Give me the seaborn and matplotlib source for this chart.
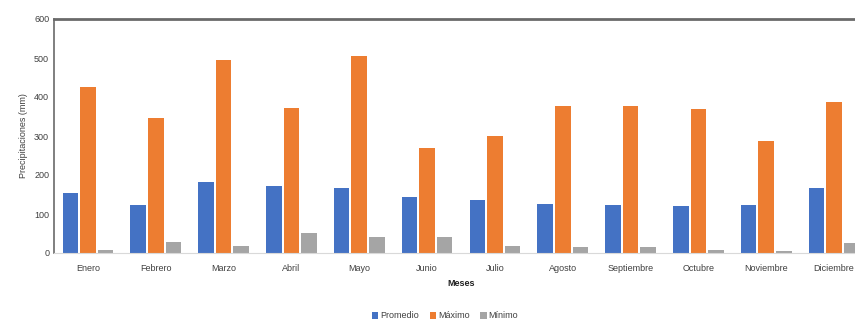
import pandas as pd
import matplotlib.pyplot as plt
import seaborn as sns

meses = ['Enero', 'Febrero', 'Marzo', 'Abril', 'Mayo', 'Junio', 'Julio',
         'Agosto', 'Septiembre', 'Octubre', 'Noviembre', 'Diciembre']
promedio = [154, 123, 182, 172, 167, 144, 136, 126, 123, 121, 123, 167]
maximo = [426, 346, 495, 372, 505, 270, 300, 378, 378, 368, 287, 388]
minimo = [8, 27, 18, 52, 42, 42, 18, 15, 15, 8, 5, 25]
series = ['Promedio', 'Máximo', 'Mínimo']
colores = ['#4472C4', '#ED7D31', '#A5A5A5']

df = pd.DataFrame({'Meses': meses, 'Promedio': promedio, 'Máximo': maximo, 'Mínimo': minimo})
df_long = df.melt(id_vars='Meses', var_name='Serie', value_name='Valor')

sns.set_style('white')
plt.rcParams['font.family'] = ['Liberation Sans', 'DejaVu Sans']

fig = plt.figure(figsize=(8.55, 3.23), dpi=100)
ax = fig.add_axes([54 / 855, 1 - 253 / 323, 814 / 855, 234 / 323])

sns.barplot(data=df_long, x='Meses', y='Valor', hue='Serie', hue_order=series,
            palette=colores, saturation=1, width=0.78, gap=0.12, linewidth=0,
            ax=ax, legend=True)

ax.set_ylim(0, 600)
ax.set_xlim(-0.5, 11.5)
ax.set_yticks(range(0, 601, 100))
ax.tick_params(axis='both', labelsize=6.5, colors='#404040', length=0)
ax.tick_params(axis='x', pad=8)
ax.set_ylabel('Precipitaciones (mm)', fontsize=6.5, color='#404040')
ax.set_xlabel('Meses', fontsize=6.5, fontweight='bold', color='#202020', labelpad=4)

for lado in ['top', 'left']:
    ax.spines[lado].set_color('#6a6a6a')
ax.spines['top'].set_linewidth(2)
ax.spines['left'].set_linewidth(1.2)
ax.spines['bottom'].set_color('#d9d9d9')
ax.spines['right'].set_visible(False)

ax.legend(loc='center', bbox_to_anchor=(445 / 855, 1 - 316 / 323),
          bbox_transform=fig.transFigure, ncol=3, frameon=False, fontsize=6.5,
          handlelength=0.7, handleheight=0.7, handletextpad=0.2, columnspacing=1.2,
          borderpad=0)
for t in ax.get_legend().get_texts():
    t.set_color('#404040')

fig.savefig('out.png', dpi=100)
